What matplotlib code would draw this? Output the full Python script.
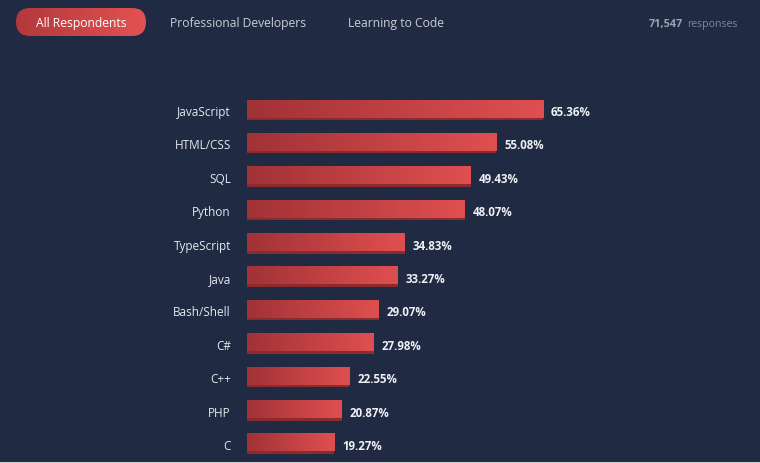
import numpy as np
import matplotlib
matplotlib.use('Agg')
import matplotlib.pyplot as plt
from matplotlib.colors import LinearSegmentedColormap
from matplotlib.patches import FancyBboxPatch, Rectangle

languages = ['JavaScript', 'HTML/CSS', 'SQL', 'Python', 'TypeScript', 'Java',
             'Bash/Shell', 'C#', 'C++', 'PHP', 'C']
shares = [65.36, 55.08, 49.43, 48.07, 34.83, 33.27, 29.07, 27.98, 22.55, 20.87, 19.27]
tabs = ['All Respondents', 'Professional Developers', 'Learning to Code']
responses = '71,547'

bg = '#202a42'
bar_cmap = LinearSegmentedColormap.from_list('bar', ['#a13236', '#e04f50'])

fig = plt.figure(figsize=(7.6, 4.64), dpi=100, facecolor=bg)
ax = fig.add_axes([0, 0, 1, 1])
ax.set_facecolor(bg)
# pixel mapping: x = 247 + v*4.529, y = 111 + i*33.4
px_per_pct = 4.529
row = 33.4
ax.set_xlim(-247 / px_per_pct, (760 - 247) / px_per_pct)
ax.set_ylim((464 - 111) / row, -111 / row)
ax.set_axis_off()

h = 17.5 / row
sh = 2.5 / row
grad = np.linspace(0, 1, 256).reshape(1, -1)
for i, (lang, v) in enumerate(zip(languages, shares)):
    top = i - (h + sh) / 2
    ax.add_patch(Rectangle((0, top + h - sh), v, sh * 2, color='#8c2a2e', lw=0, zorder=2))
    ax.imshow(grad, cmap=bar_cmap, aspect='auto', extent=[0, v, top + h, top],
              zorder=3, interpolation='bicubic')
    ax.text(-16 / px_per_pct, i + 5 / row, lang, ha='right', va='baseline', color='#e6e8ee',
            fontsize=8.5, family='Open Sans')
    ax.text(v + 8 / px_per_pct, i + 5 / row, f'{v:.2f}%', ha='left', va='baseline',
            color='#eef0f4', fontsize=8.3, fontweight='bold', family='Open Sans')

# top tabs
pill_ax = fig.add_axes([16 / 760, 1 - 37 / 464, 130 / 760, 28 / 464])
pill_ax.set_axis_off()
pill_ax.set_xlim(0, 130)
pill_ax.set_ylim(0, 28)
pill = FancyBboxPatch((0, 0), 130, 28, boxstyle='round,pad=0,rounding_size=14',
                      transform=pill_ax.transData, facecolor='none', edgecolor='none')
pill_ax.add_patch(pill)
im = pill_ax.imshow(grad, cmap=LinearSegmentedColormap.from_list('p', ['#b3383b', '#e25252']),
                    aspect='auto', extent=[0, 130, 0, 28])
im.set_clip_path(pill)
fig.text(81 / 760, 1 - 27.5 / 464, tabs[0], ha='center', va='baseline', color='white',
         fontsize=8.7, family='Open Sans')

fig.text(238 / 760, 1 - 27.5 / 464, tabs[1], ha='center', va='baseline', color='#c9cdd6',
         fontsize=8.7, family='Open Sans')
fig.text(396 / 760, 1 - 27.5 / 464, tabs[2], ha='center', va='baseline', color='#c9cdd6',
         fontsize=8.7, family='Open Sans')
fig.text(737 / 760, 1 - 26.7 / 464, 'responses', ha='right', va='baseline', color='#7d8699',
         fontsize=7.6, family='Open Sans')
fig.text(683 / 760, 1 - 26.7 / 464, responses, ha='right', va='baseline', color='#9aa1b0',
         fontsize=7.8, fontweight='bold', family='Open Sans')

ax.axhline((463.5 - 111) / row, color='#c9ccd4', lw=1.5)

fig.savefig('out.png', dpi=100, facecolor=bg)
